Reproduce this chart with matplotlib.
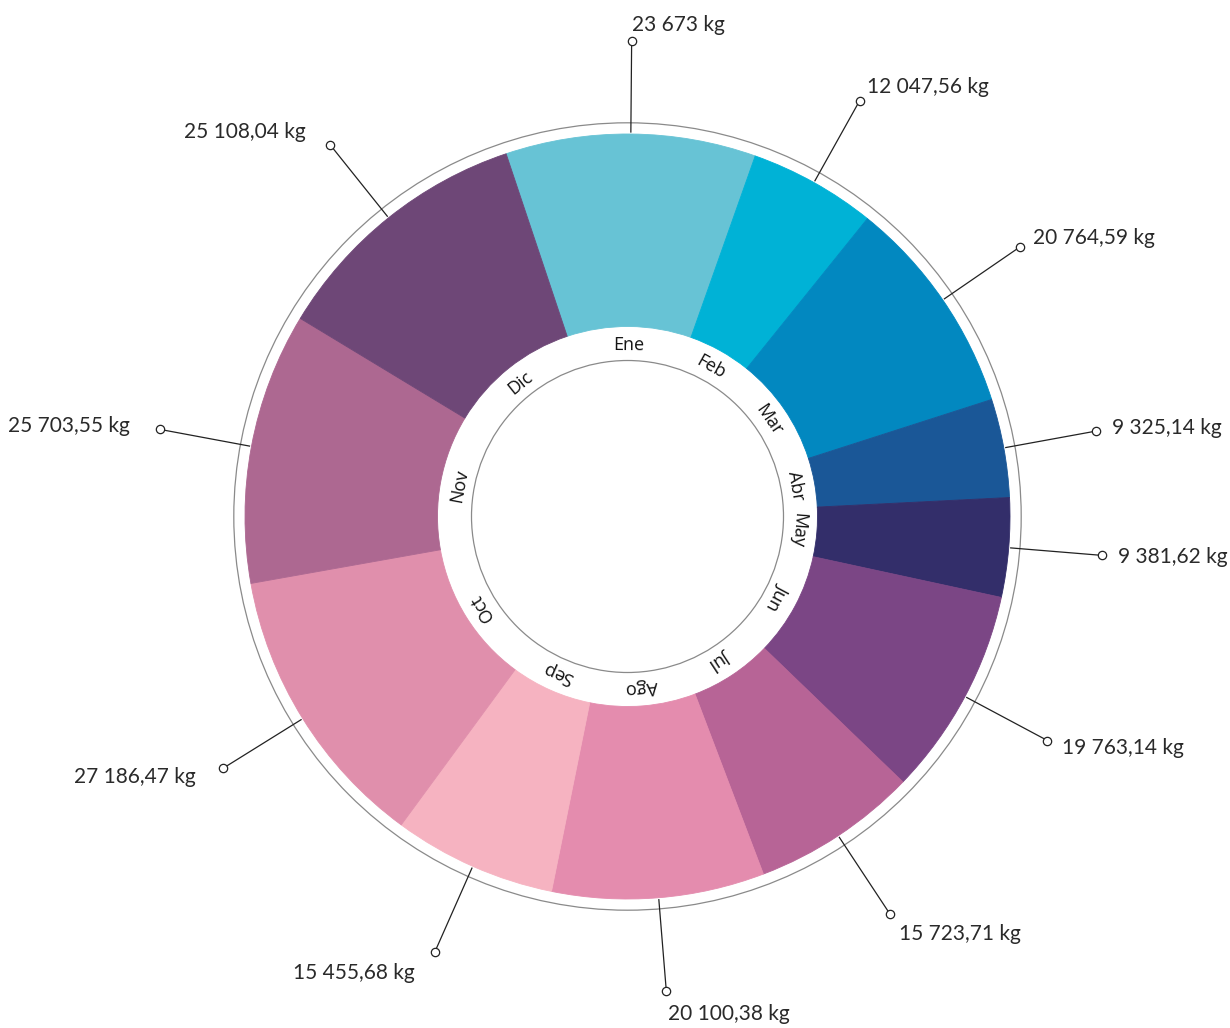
import numpy as np
import matplotlib
matplotlib.use('Agg')
import matplotlib.pyplot as plt
from matplotlib.patches import Circle

months = ['Ene', 'Feb', 'Mar', 'Abr', 'May', 'Jun', 'Jul', 'Ago', 'Sep', 'Oct', 'Nov', 'Dic']
values = [23673, 12047.56, 20764.59, 9325.14, 9381.62, 19763.14,
          15723.71, 20100.38, 15455.68, 27186.47, 25703.55, 25108.04]
labels = ['23 673 kg', '12 047,56 kg', '20 764,59 kg', '9 325,14 kg', '9 381,62 kg', '19 763,14 kg',
          '15 723,71 kg', '20 100,38 kg', '15 455,68 kg', '27 186,47 kg', '25 703,55 kg', '25 108,04 kg']
colors = ['#67C3D5', '#00B2D6', '#0288C0', '#1A5797', '#332E6A', '#7B4685',
          '#B76496', '#E48CAE', '#F6B3C1', '#E08FAC', '#AD6891', '#6E4777']

W, H = 1230, 1028
cx, cy = 627.5, H - 516.5
r_out, r_in = 382.5, 190
r_ring = 393.7
r_inner_line = 156
r_month = 171
r_marker = 476
r_text = 492

fig = plt.figure(figsize=(W / 100, H / 100), dpi=100)
ax = fig.add_axes([0, 0, 1, 1])

total = sum(values)
half_first = values[0] / total * 360 / 2
start = 90 + half_first - 0.5

wedges, _ = ax.pie(values, colors=colors, radius=r_out, center=(cx, cy),
                   startangle=start, counterclock=False,
                   wedgeprops=dict(width=r_out - r_in, linewidth=0.6))
for w in wedges:
    w.set_edgecolor(w.get_facecolor())

ax.add_patch(Circle((cx, cy), r_ring, fill=False, edgecolor='#8a8a8a', linewidth=0.9))
ax.add_patch(Circle((cx, cy), r_inner_line, fill=False, edgecolor='#8a8a8a', linewidth=0.9))

# mid angles, clockwise from top
cum = np.cumsum([0] + values[:-1])
mids = (cum + np.array(values) / 2) / total * 360 - half_first + 0.5

for i, a in enumerate(mids):
    t = np.radians(a)
    s, c = np.sin(t), np.cos(t)

    # month label in the white ring
    ax.text(cx + r_month * s, cy + r_month * c, months[i], rotation=-a,
            rotation_mode='anchor', ha='center', va='center',
            fontsize=13, family=['Open Sans', 'DejaVu Sans'], color='#111111')

    # callout
    ax.plot([cx + (r_out + 2) * s, cx + r_marker * s], [cy + (r_out + 2) * c, cy + r_marker * c],
            color='#222222', lw=0.9, zorder=3)
    ax.plot(cx + r_marker * s, cy + r_marker * c, 'o', ms=6, mfc='white',
            mec='#222222', mew=0.9, zorder=4)

    tx = cx + r_text * s
    ty = cy + r_text * c
    if c < -0.7:
        ty -= 7
    if s >= 0:
        ha = 'left'
    else:
        ha = 'right'
        tx -= 14
    ax.text(tx, ty, labels[i], ha=ha, va='center', fontsize=15,
            family=['Lato', 'DejaVu Sans'], color='#2a2a2a')

ax.set_xlim(0, W)
ax.set_ylim(0, H)
ax.set_aspect('equal')
ax.axis('off')

plt.savefig('out.png', dpi=100)
